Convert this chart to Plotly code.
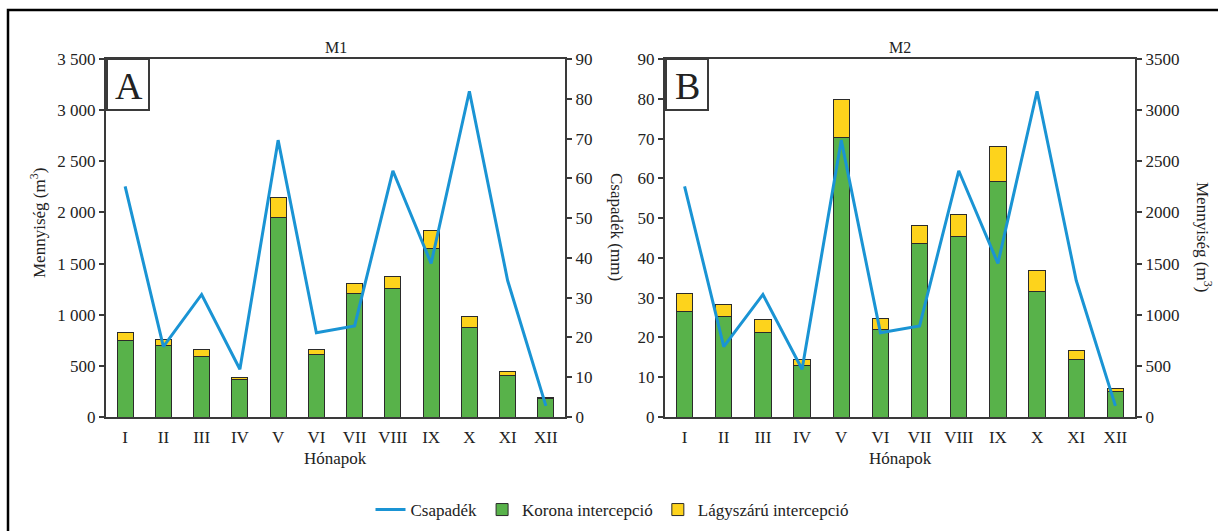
import plotly.graph_objects as go

# Months (Roman numerals)
honapok = ["I", "II", "III", "IV", "V", "VI", "VII", "VIII", "IX", "X", "XI", "XII"]

# Monthly precipitation (mm), same for both sites
csapadek = [58.0, 17.7, 30.8, 12.0, 69.6, 21.2, 22.9, 61.9, 38.6, 81.9, 34.3, 2.8]

# Site M1 interception quantities (m3)
m1_korona = [744, 702, 591, 362, 1946, 607, 1211, 1257, 1645, 875, 402, 183]
m1_lagyszaru = [82, 59, 65, 27, 196, 56, 92, 117, 177, 107, 42, 8]

# Site M2 interception quantities (m3)
m2_korona = [1035, 980, 825, 502, 2734, 852, 1700, 1762, 2306, 1225, 564, 249]
m2_lagyszaru = [175, 121, 132, 62, 366, 113, 171, 222, 334, 206, 89, 27]

# Tick labels
m3_ticks = [0, 500, 1000, 1500, 2000, 2500, 3000, 3500]
m1_m3_text = ["0", "500", "1 000", "1 500", "2 000", "2 500", "3 000", "3 500"]
m2_m3_text = ["0", "500", "1000", "1500", "2000", "2500", "3000", "3500"]
mm_ticks = [0, 10, 20, 30, 40, 50, 60, 70, 80, 90]

W, H = 1218, 531
FONT = "Liberation Serif, Times New Roman, serif"
TXT = "#222222"
AX = "#3a3a3a"
GREEN = "#58b24a"
YELLOW = "#fdd31c"
BLUE = "#1a94d4"
OUTLINE = "#2b2b2b"


def px(x):
    return x / W


def py(y):
    return 1 - y / H


fig = go.Figure()

# ---- Panel A (M1): bars on left m3 axis, precipitation on right mm axis
fig.add_trace(go.Scatter(x=honapok, y=csapadek, mode="lines", name="Csapadék",
                         line=dict(color=BLUE, width=3), xaxis="x", yaxis="y2",
                         legendrank=1))
fig.add_trace(go.Bar(x=honapok, y=m1_korona, name="Korona intercepció",
                     marker=dict(color=GREEN, line=dict(color=OUTLINE, width=1)),
                     width=0.42, xaxis="x", yaxis="y", legendrank=2))
fig.add_trace(go.Bar(x=honapok, y=m1_lagyszaru, name="Lágyszárú intercepció",
                     marker=dict(color=YELLOW, line=dict(color=OUTLINE, width=1)),
                     width=0.42, xaxis="x", yaxis="y", legendrank=3))

# ---- Panel B (M2): bars on right m3 axis, precipitation on left mm axis
fig.add_trace(go.Bar(x=honapok, y=m2_korona, name="Korona intercepció",
                     marker=dict(color=GREEN, line=dict(color=OUTLINE, width=1)),
                     width=0.42, xaxis="x2", yaxis="y3", showlegend=False))
fig.add_trace(go.Bar(x=honapok, y=m2_lagyszaru, name="Lágyszárú intercepció",
                     marker=dict(color=YELLOW, line=dict(color=OUTLINE, width=1)),
                     width=0.42, xaxis="x2", yaxis="y3", showlegend=False))
fig.add_trace(go.Scatter(x=honapok, y=csapadek, mode="lines", name="Csapadék",
                         line=dict(color=BLUE, width=3), xaxis="x2", yaxis="y4",
                         showlegend=False))

ydom = [py(417), py(59)]
xa = dict(showline=True, linecolor=AX, linewidth=2, mirror=True, ticks="",
          range=[-0.5, 11.5], type="category", showgrid=False,
          tickfont=dict(family=FONT, size=17, color=TXT), ticklabelstandoff=4)
ya_common = dict(showline=True, linecolor=AX, linewidth=2, ticks="outside",
                 ticklen=5, tickwidth=1.5, tickcolor=AX, showgrid=False, zeroline=False,
                 tickfont=dict(family=FONT, size=17, color=TXT))

fig.update_layout(
    width=W, height=H,
    margin=dict(l=0, r=0, t=0, b=0, autoexpand=False),
    paper_bgcolor="white", plot_bgcolor="white",
    barmode="stack",
    font=dict(family=FONT, color=TXT),
    xaxis=dict(domain=[px(106), px(565)], anchor="y", **xa),
    xaxis2=dict(domain=[px(665), px(1135)], anchor="y3", **xa),
    yaxis=dict(domain=ydom, anchor="x", side="left", range=[0, 3500],
               tickvals=m3_ticks, ticktext=m1_m3_text, **ya_common),
    yaxis2=dict(anchor="x", overlaying="y", side="right", range=[0, 90],
                tickvals=mm_ticks, **ya_common),
    yaxis3=dict(domain=ydom, anchor="x2", side="right", range=[0, 3500],
                tickvals=m3_ticks, ticktext=m2_m3_text, **ya_common),
    yaxis4=dict(anchor="x2", overlaying="y3", side="left", range=[0, 90],
                tickvals=mm_ticks, **ya_common),
    legend=dict(orientation="h", x=px(612), xanchor="center", y=py(510), yanchor="middle",
                font=dict(family=FONT, size=17, color=TXT), traceorder="normal",
                itemwidth=30, bgcolor="rgba(0,0,0,0)"),
)


def label(text, x, y, size=17, angle=0):
    return dict(text=text, x=px(x), y=py(y), xref="paper", yref="paper",
                xanchor="center", yanchor="middle", showarrow=False, textangle=angle,
                font=dict(family=FONT, size=size, color=TXT))


ann = [
    # panel titles
    label("M1", 335.5, 47, 16),
    label("M2", 900, 47, 16),
    # panel letters
    label("A", 128.5, 86, 38),
    label("B", 687.5, 86, 38),
    # x axis titles
    label("Hónapok", 335.5, 458),
    label("Hónapok", 900, 458),
    # y axis titles
    label("Mennyiség (m<sup>3</sup>)", 38, 223, angle=-90),
    label("Csapadék (mm)", 617, 227, angle=90),
    label("Mennyiség (m<sup>3</sup>)", 1204, 237, angle=90),
]
fig.update_layout(annotations=ann)

shapes = [
    # outer frame
    dict(type="rect", xref="paper", yref="paper", x0=px(8), y0=-0.02, x1=1.02, y1=py(10),
         line=dict(color="black", width=2.5), fillcolor="rgba(0,0,0,0)"),
    # letter boxes
    dict(type="rect", xref="paper", yref="paper", x0=px(107), y0=py(110), x1=px(149), y1=py(59),
         line=dict(color=AX, width=2), fillcolor="white", layer="below"),
    dict(type="rect", xref="paper", yref="paper", x0=px(666), y0=py(110), x1=px(708), y1=py(59),
         line=dict(color=AX, width=2), fillcolor="white", layer="below"),
]
fig.update_layout(shapes=shapes)

fig.write_html("out.html")
